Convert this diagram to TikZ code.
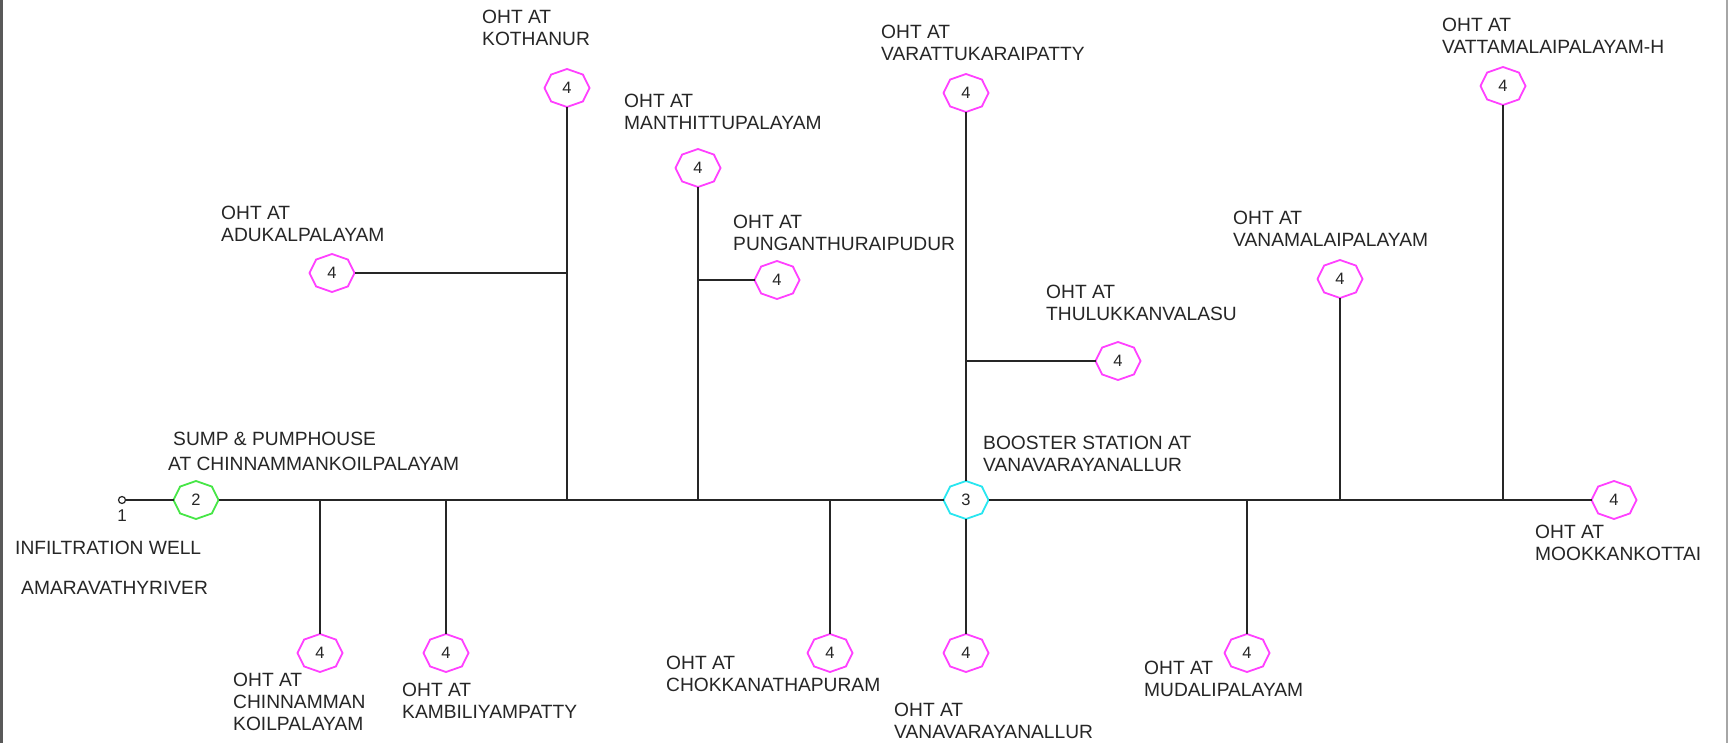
\documentclass[tikz,border=0pt]{standalone}
\usepackage{fontspec}
\setmainfont{Liberation Sans}
\usetikzlibrary{shapes.geometric}
\definecolor{ohtmag}{RGB}{255,64,255}
\definecolor{sumpgreen}{RGB}{70,230,70}
\definecolor{boostcyan}{RGB}{40,230,240}
\newcommand\octoline[2]{\draw[#2, octline] (#1.east) -- (#1.north east) -- (#1.north) -- (#1.north west) -- (#1.west) -- (#1.south west) -- (#1.south) -- (#1.south east) -- cycle;}
\begin{document}
\begin{tikzpicture}[x=1pt, y=-1pt,
  pipe/.style={line width=1.6pt, draw=black!85},
  octline/.style={line width=1.8pt, line join=miter},
  oct/.style={ellipse, minimum width=45pt, minimum height=38pt, inner sep=0pt, outer sep=0pt, text=black!85, font=\fontsize{16.5}{18}\selectfont},
  lbl/.style={anchor=west, align=left, inner sep=0pt, text=black!85, font=\fontsize{19.2}{22}\selectfont}]
\useasboundingbox (0,0) rectangle (1730,743);
\fill[white] (0,0) rectangle (1730,743);
\draw[line width=3pt, draw=black!65] (1.5,0) -- (1.5,743);
\draw[line width=2pt, draw=black!35] (1727,0) -- (1727,743);

% main nodes
\node[circle, draw=black!85, line width=1.2pt, minimum size=7pt, inner sep=0pt] (well) at (122,500) {};
\node[inner sep=0pt, text=black!85, font=\fontsize{17}{18}\selectfont] (welllab) at (122,516) {1};
\node[oct] (sump) at (196,500) {2};
\node[oct] (boost) at (966,500) {3};
\node[oct] (chin) at (320,653) {4};
\node[oct] (kamb) at (446,653) {4};
\node[oct] (koth) at (567,88) {4};
\node[oct] (aduk) at (332,273) {4};
\node[oct] (manth) at (698,168) {4};
\node[oct] (pung) at (777,280) {4};
\node[oct] (chok) at (830,653) {4};
\node[oct] (vara) at (966,93) {4};
\node[oct] (thul) at (1118,361) {4};
\node[oct] (vanav) at (966,653) {4};
\node[oct] (mudal) at (1247,653) {4};
\node[oct] (vanam) at (1340,279) {4};
\node[oct] (vatt) at (1503,86) {4};
\node[oct] (mook) at (1614,500) {4};

\octoline{sump}{sumpgreen}
\octoline{boost}{boostcyan}
\foreach \n in {chin,kamb,koth,aduk,manth,pung,chok,vara,thul,vanav,mudal,vanam,vatt,mook}{\octoline{\n}{ohtmag}}

% junctions
\coordinate (j1) at (320,500);
\coordinate (j2) at (446,500);
\coordinate (j3) at (567,500);
\coordinate (ja) at (567,273);
\coordinate (j4) at (698,500);
\coordinate (jp) at (698,280);
\coordinate (j5) at (830,500);
\coordinate (jt) at (966,361);
\coordinate (j6) at (1247,500);
\coordinate (j7) at (1340,500);
\coordinate (j8) at (1503,500);

% pipes
\draw[pipe] (well) -- (sump);
\draw[pipe] (sump) -- (boost);
\draw[pipe] (boost) -- (mook);
\draw[pipe] (j1) -- (chin);
\draw[pipe] (j2) -- (kamb);
\draw[pipe] (j3) -- (koth);
\draw[pipe] (ja) -- (aduk);
\draw[pipe] (j4) -- (manth);
\draw[pipe] (jp) -- (pung);
\draw[pipe] (j5) -- (chok);
\draw[pipe] (boost) -- (vara);
\draw[pipe] (jt) -- (thul);
\draw[pipe] (boost) -- (vanav);
\draw[pipe] (j6) -- (mudal);
\draw[pipe] (j7) -- (vanam);
\draw[pipe] (j8) -- (vatt);

% labels
\node[lbl, font=\fontsize{19.2}{24.5}\selectfont] (lsump) at (168,451.5) {\hspace*{5pt}SUMP \& PUMPHOUSE\\AT CHINNAMMANKOILPALAYAM};
\node[lbl] (lwell) at (15,548) {INFILTRATION WELL};
\node[lbl] (lriver) at (21,588) {AMARAVATHYRIVER};
\node[lbl] (lchin) at (233,701.5) {OHT AT\\CHINNAMMAN\\KOILPALAYAM};
\node[lbl] (lkamb) at (402,701) {OHT AT\\KAMBILIYAMPATTY};
\node[lbl] (lkoth) at (482,28) {OHT AT\\KOTHANUR};
\node[lbl] (laduk) at (221,224) {OHT AT\\ADUKALPALAYAM};
\node[lbl] (lmanth) at (624,111.5) {OHT AT\\MANTHITTUPALAYAM};
\node[lbl] (lpung) at (733,232.5) {OHT AT\\PUNGANTHURAIPUDUR};
\node[lbl] (lchok) at (666,673.5) {OHT AT\\CHOKKANATHAPURAM};
\node[lbl] (lvara) at (881,42.5) {OHT AT\\VARATTUKARAIPATTY};
\node[lbl] (lthul) at (1046,303) {OHT AT\\THULUKKANVALASU};
\node[lbl] (lboost) at (983,454) {BOOSTER STATION AT\\VANAVARAYANALLUR};
\node[lbl] (lvanav) at (894,721) {OHT AT\\VANAVARAYANALLUR};
\node[lbl] (lmudal) at (1144,678.5) {OHT AT\\MUDALIPALAYAM};
\node[lbl] (lvanam) at (1233,229) {OHT AT\\VANAMALAIPALAYAM};
\node[lbl] (lvatt) at (1442,35.5) {OHT AT\\VATTAMALAIPALAYAM-H};
\node[lbl] (lmook) at (1535,542.5) {OHT AT\\MOOKKANKOTTAI};
\end{tikzpicture}
\end{document}
